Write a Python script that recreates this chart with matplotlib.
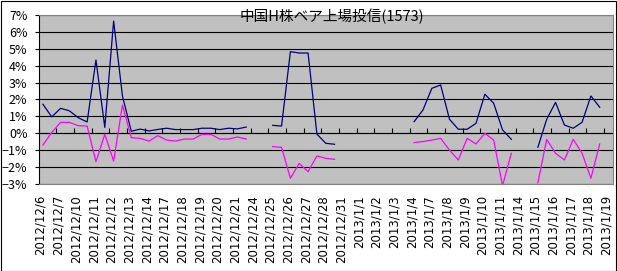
import numpy as np
from matplotlib import pyplot as plt
from matplotlib import ticker
from matplotlib.patches import Rectangle

plt.rcParams['font.family'] = ['Noto Sans CJK JP', 'DejaVu Sans']

title = '中国H株ベア上場投信(1573)'

dates = ['2012/12/6', '2012/12/7', '2012/12/10', '2012/12/11', '2012/12/12',
         '2012/12/13', '2012/12/14', '2012/12/17', '2012/12/18', '2012/12/19',
         '2012/12/20', '2012/12/21', '2012/12/24', '2012/12/25', '2012/12/26',
         '2012/12/27', '2012/12/28', '2012/12/31', '2013/1/1', '2013/1/2',
         '2013/1/3', '2013/1/4', '2013/1/7', '2013/1/8', '2013/1/9',
         '2013/1/10', '2013/1/11', '2013/1/14', '2013/1/15', '2013/1/16',
         '2013/1/17', '2013/1/18', '2013/1/19']

nan = np.nan
# two readings per day (%), nan where the market was closed
series1 = [1.72, 0.97, 1.48, 1.33, 0.92, 0.67, 4.34, 0.35, 6.64, 2.2,
           0.12, 0.25, 0.14, 0.23, 0.30, 0.22, 0.22, 0.22, 0.30, 0.30,
           0.22, 0.30, 0.26, 0.37, nan, nan, 0.47, 0.43, 4.83, 4.75,
           4.75, -0.05, -0.59, -0.65, nan, nan, nan, nan, nan, nan,
           nan, nan, 0.69, 1.38, 2.66, 2.86, 0.83, 0.24, 0.24, 0.59,
           2.31, 1.78, 0.20, -0.36, nan, nan, -0.83, 0.83, 1.83, 0.49,
           0.30, 0.65, 2.21, 1.54, nan]
series2 = [-0.70, 0.05, 0.65, 0.65, 0.45, 0.43, -1.68, -0.06, -1.64, 1.67,
           -0.26, -0.30, -0.46, -0.14, -0.40, -0.46, -0.34, -0.34, -0.06, -0.06,
           -0.34, -0.34, -0.22, -0.34, nan, nan, -0.79, -0.83, -2.66, -1.78,
           -2.27, -1.34, -1.48, -1.54, nan, nan, nan, nan, nan, nan,
           nan, nan, -0.55, -0.49, -0.40, -0.30, -0.99, -1.58, -0.30, -0.63,
           0.00, -0.40, -3.10, -1.18, nan, nan, -2.92, -0.36, -1.18, -1.58,
           -0.36, -1.18, -2.66, -0.63, nan]

W, H = 617, 271
fig = plt.figure(figsize=(W / 100, H / 100), dpi=100)
fig.patches.append(Rectangle((0.5 / W, 0.5 / H), 1 - 1.5 / W, 1 - 1.5 / H,
                             transform=fig.transFigure, fill=False,
                             edgecolor='black', linewidth=0.8))

ax = fig.add_axes([38.5 / W, (H - 184) / H, (613 - 38.5) / W, 169 / H])
ax.set_facecolor('#C0C0C0')

x = (np.arange(len(series1)) + 0.5) / 2
ax.plot(x, series1, color='#000080', lw=0.9)
ax.plot(x, series2, color='#FF00FF', lw=0.9)

ax.set_xlim(0, len(series1) / 2)
ax.set_ylim(-3, 7)
ax.set_yticks(range(-3, 8))
ax.yaxis.set_major_formatter(ticker.FuncFormatter(
    lambda v, p: '{:.0f}%'.format(v).replace('-', '−')))
ax.grid(axis='y', color='black', lw=0.8)
ax.set_axisbelow(True)

ax.set_xticks(np.arange(len(dates)) + 0.12)
ax.set_xticklabels(dates, rotation=90, fontsize=8.5,
                   family=['DejaVu Sans'])
ax.tick_params(axis='x', length=0, pad=8)
ax.tick_params(axis='y', length=3, width=0.8, direction='out',
               labelsize=9, pad=5)

for side in ['top', 'right', 'bottom']:
    ax.spines[side].set_color('#808080')
    ax.spines[side].set_linewidth(0.8)
ax.spines['left'].set_color('black')
ax.spines['left'].set_linewidth(0.8)

# category axis crosses at 0%
sec = ax.secondary_xaxis(0.3)
sec.set_xticks(np.arange(len(dates)))
sec.tick_params(axis='x', direction='in', length=3.5, width=0.8,
                labelbottom=False)
sec.spines['bottom'].set_color('black')
sec.spines['bottom'].set_linewidth(0.8)

fig.text(332 / W, 1 - 16.5 / H, title, ha='center', va='center',
         fontsize=10.5, zorder=10)

fig.savefig('out.png', dpi=100)
plt.close(fig)
